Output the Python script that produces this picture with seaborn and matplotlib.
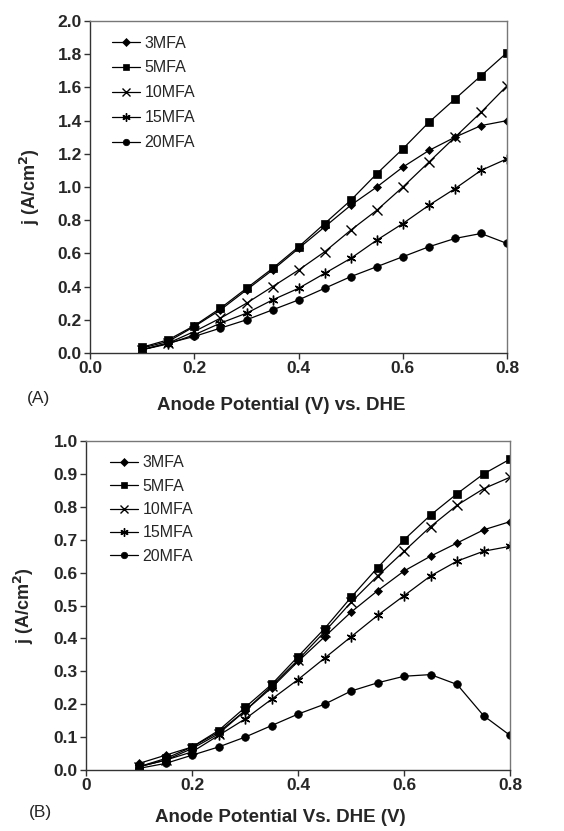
import matplotlib
matplotlib.use("Agg")
import matplotlib.pyplot as plt
import seaborn as sns
import pandas as pd

# potentials (V) shared by all curves
potential = [0.10, 0.15, 0.20, 0.25, 0.30, 0.35, 0.40, 0.45,
             0.50, 0.55, 0.60, 0.65, 0.70, 0.75, 0.80]
series_names = ["3MFA", "5MFA", "10MFA", "15MFA", "20MFA"]

# panel (A)
a_3mfa = [0.03, 0.07, 0.16, 0.26, 0.38, 0.50, 0.63, 0.76, 0.89, 1.00, 1.12, 1.22, 1.30, 1.37, 1.40]
a_5mfa = [0.035, 0.08, 0.165, 0.27, 0.39, 0.51, 0.64, 0.78, 0.92, 1.08, 1.23, 1.39, 1.53, 1.67, 1.81]
a_10mfa = [0.02, 0.06, 0.13, 0.21, 0.30, 0.40, 0.50, 0.61, 0.74, 0.86, 1.00, 1.15, 1.30, 1.45, 1.61]
a_15mfa = [0.02, 0.055, 0.11, 0.18, 0.24, 0.32, 0.39, 0.48, 0.57, 0.68, 0.78, 0.89, 0.99, 1.10, 1.17]
a_20mfa = [0.02, 0.06, 0.10, 0.15, 0.20, 0.26, 0.32, 0.39, 0.46, 0.52, 0.58, 0.64, 0.69, 0.72, 0.66]

# panel (B)
b_3mfa = [0.02, 0.045, 0.07, 0.115, 0.18, 0.25, 0.33, 0.405, 0.48, 0.545, 0.605, 0.65, 0.69, 0.73, 0.755]
b_5mfa = [0.01, 0.035, 0.07, 0.12, 0.19, 0.26, 0.345, 0.43, 0.525, 0.615, 0.70, 0.775, 0.84, 0.90, 0.945]
b_10mfa = [0.01, 0.03, 0.065, 0.11, 0.18, 0.255, 0.335, 0.42, 0.51, 0.59, 0.665, 0.74, 0.805, 0.855, 0.89]
b_15mfa = [0.01, 0.03, 0.055, 0.105, 0.155, 0.215, 0.275, 0.34, 0.405, 0.47, 0.53, 0.59, 0.635, 0.665, 0.68]
b_20mfa = [0.005, 0.02, 0.045, 0.07, 0.10, 0.135, 0.17, 0.20, 0.24, 0.265, 0.285, 0.29, 0.26, 0.165, 0.105]

markers = {"3MFA": "D", "5MFA": "s", "10MFA": "x", "15MFA": (6, 2, 0), "20MFA": "o"}
msizes = {"3MFA": 4.5, "5MFA": 5.5, "10MFA": 6.5, "15MFA": 7, "20MFA": 5.5}


def to_long(cols):
    rows = []
    for name, vals in zip(series_names, cols):
        for x, y in zip(potential, vals):
            rows.append({"V": x, "j": y, "series": name})
    return pd.DataFrame(rows)


df_a = to_long([a_3mfa, a_5mfa, a_10mfa, a_15mfa, a_20mfa])
df_b = to_long([b_3mfa, b_5mfa, b_10mfa, b_15mfa, b_20mfa])

sns.set_style("white")
plt.rcParams["font.family"] = ["Liberation Sans", "DejaVu Sans"]

fig = plt.figure(figsize=(5.64, 8.31), dpi=100)
ax_a = fig.add_axes([0.160, 0.5752, 0.739, 0.3995])
ax_b = fig.add_axes([0.1525, 0.0734, 0.752, 0.3959])


def draw(ax, df, spacing, anchor):
    for name in series_names:
        sub = df[df["series"] == name]
        mk = markers[name]
        sns.lineplot(data=sub, x="V", y="j", ax=ax, color="black", lw=0.9,
                     marker=mk, markersize=msizes[name],
                     markeredgewidth=1.0 if name in ("10MFA", "15MFA") else 0.5,
                     markerfacecolor="black", markeredgecolor="black",
                     label=name, legend=False)
    for side in ["left", "bottom"]:
        ax.spines[side].set_color("#333333")
        ax.spines[side].set_linewidth(1.0)
    for side in ["top", "right"]:
        ax.spines[side].set_color("#777777")
        ax.spines[side].set_linewidth(1.0)
    ax.tick_params(axis="both", direction="out", length=4, width=1,
                   color="#333333", labelsize=12.5, pad=2,
                   left=True, bottom=True)
    ax.set_ylabel("j (A/cm$^\\mathbf{2}$)", fontsize=13, fontweight="bold")
    leg = ax.legend(loc="upper left", frameon=False, fontsize=11.5,
                    handlelength=1.75, handletextpad=0.3, labelspacing=spacing,
                    bbox_to_anchor=anchor, borderaxespad=0.3,
                    markerscale=0.85)
    return leg


draw(ax_a, df_a, 0.62, (0.025, 0.99))
ax_a.set_xlim(0, 0.8)
ax_a.set_ylim(0, 2.0)
ax_a.set_xticks([0.0, 0.2, 0.4, 0.6, 0.8])
ax_a.set_xticklabels(["0.0", "0.2", "0.4", "0.6", "0.8"], fontweight="bold")
ax_a.set_yticks([i / 5 for i in range(11)])
ax_a.set_yticklabels([f"{i / 5:.1f}" for i in range(11)], fontweight="bold")
ax_a.set_xlabel("Anode Potential (V) vs. DHE", fontsize=13.5, fontweight="bold")
ax_a.xaxis.set_label_coords(0.458, -0.133)
ax_a.yaxis.set_label_coords(-0.115, 0.5)

draw(ax_b, df_b, 0.52, (0.03, 0.99))
ax_b.set_xlim(0, 0.8)
ax_b.set_ylim(0, 1.0)
ax_b.set_xticks([0.0, 0.2, 0.4, 0.6, 0.8])
ax_b.set_xticklabels(["0", "0.2", "0.4", "0.6", "0.8"], fontweight="bold")
ax_b.set_yticks([i / 10 for i in range(11)])
ax_b.set_yticklabels([f"{i / 10:.1f}" for i in range(11)], fontweight="bold")
ax_b.set_xlabel("Anode Potential Vs. DHE (V)", fontsize=13.5, fontweight="bold")
ax_b.xaxis.set_label_coords(0.458, -0.118)
ax_b.yaxis.set_label_coords(-0.117, 0.5)

fig.text(0.048, 1 - 398 / 831, "(A)", fontsize=12.5, va="center", ha="left")
fig.text(0.052, 1 - 812 / 831, "(B)", fontsize=12.5, va="center", ha="left")

fig.savefig("out.png", dpi=100, facecolor="white")
